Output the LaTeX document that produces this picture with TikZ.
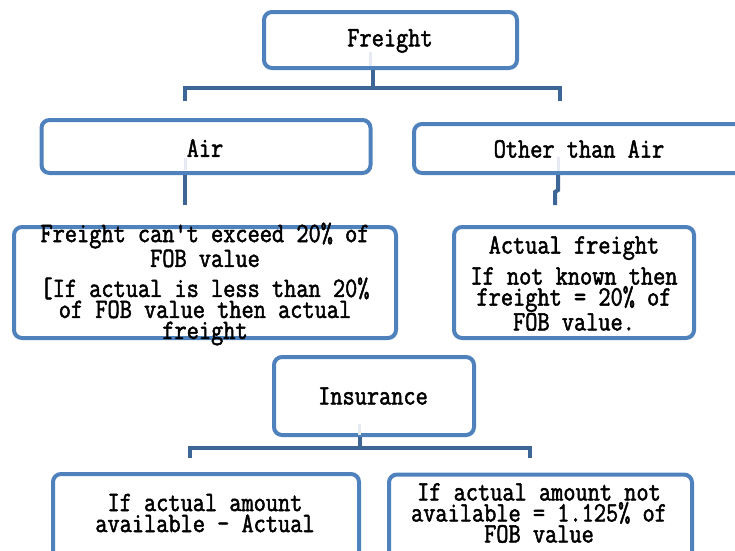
\documentclass[tikz,border=0pt]{standalone}
\usepackage{fontspec}
\setmainfont{Latin Modern Mono}[FakeStretch=0.845,FakeBold=1.8,Ligatures=TeXOff]
\definecolor{boxblue}{HTML}{4F81BD}
\definecolor{linkblue}{HTML}{3D6697}
\definecolor{faintline}{HTML}{E6EBF3}
\begin{document}
\begin{tikzpicture}[x=1pt,y=-1pt,
  box/.style={draw=boxblue,line width=4pt,rounded corners=8pt,inner sep=0pt,fill=white},
  txt/.style={font=\fontsize{28}{21}\selectfont,align=center,inner sep=0pt},
  link/.style={draw=linkblue,line width=4pt},
  faint/.style={draw=faintline,line width=3pt}]
\useasboundingbox (0,0) rectangle (735,550);
\clip (0,0) rectangle (735,550);
% boxes
\node[box,minimum width=253pt,minimum height=56pt] (freight) at (390.5,40) {};
\node[box,minimum width=329pt,minimum height=53pt] (air) at (206,146.5) {};
\node[box,minimum width=331pt,minimum height=49pt] (other) at (579.5,148.5) {};
\node[box,minimum width=382pt,minimum height=111pt] (airrule) at (205,282.5) {};
\node[box,minimum width=240pt,minimum height=111pt] (otherrule) at (574,282.5) {};
\node[box,minimum width=200pt,minimum height=78pt] (ins) at (374,396) {};
\node[box,minimum width=306pt,minimum height=86pt] (insa) at (206,517) {};
\node[box,minimum width=303pt,minimum height=86pt] (insb) at (540.5,517.5) {};
% texts
\node[txt] (freightT) at (390,41) {Freight};
\node[txt] (airT) at (205,148) {Air};
\node[txt] (otherT) at (579,149) {Other than Air};
\node[txt] (airruleT) at (205,284) {Freight can{\char"27}t exceed 20\% of\\FOB value\\[9pt][If actual is less than 20\%\\of FOB value then actual\\freight};
\node[txt] (otherruleT) at (574,248) {Actual freight};
\node[txt] (otherrule2T) at (574,299) {If not known then\\freight = 20\% of\\FOB value.};
\node[txt] (insT) at (373,396) {Insurance};
\node[txt] (insaT) at (205,513) {If actual amount\\available - Actual};
\node[txt] (insbT) at (539,513) {If actual amount not\\available = 1.125\% of\\FOB value};
% connectors
\coordinate (fj) at (373,88);
\draw[faint] (370,52) -- (370,66);
\draw[link] (freight.south -| fj) -- (fj);
\draw[link,line cap=rect] (185,99) |- (fj) -| (560,99);
\draw[faint] (185,158) -- (185,170);
\draw[link] (air.south -| 185,0) -- (185,205);
\draw[faint] (558,157) -- (558,171);
\draw[link] (other.south -| 558,0) -- (558,190) -- (555,192) -- (555,205);
\coordinate (ij) at (360,448);
\draw[faint] (359,424) -- (359,435);
\draw[link] (ins.south -| ij) -- (ij);
\draw[link,line cap=rect] (190,456) |- (ij) -| (530,456);
\end{tikzpicture}
\end{document}
